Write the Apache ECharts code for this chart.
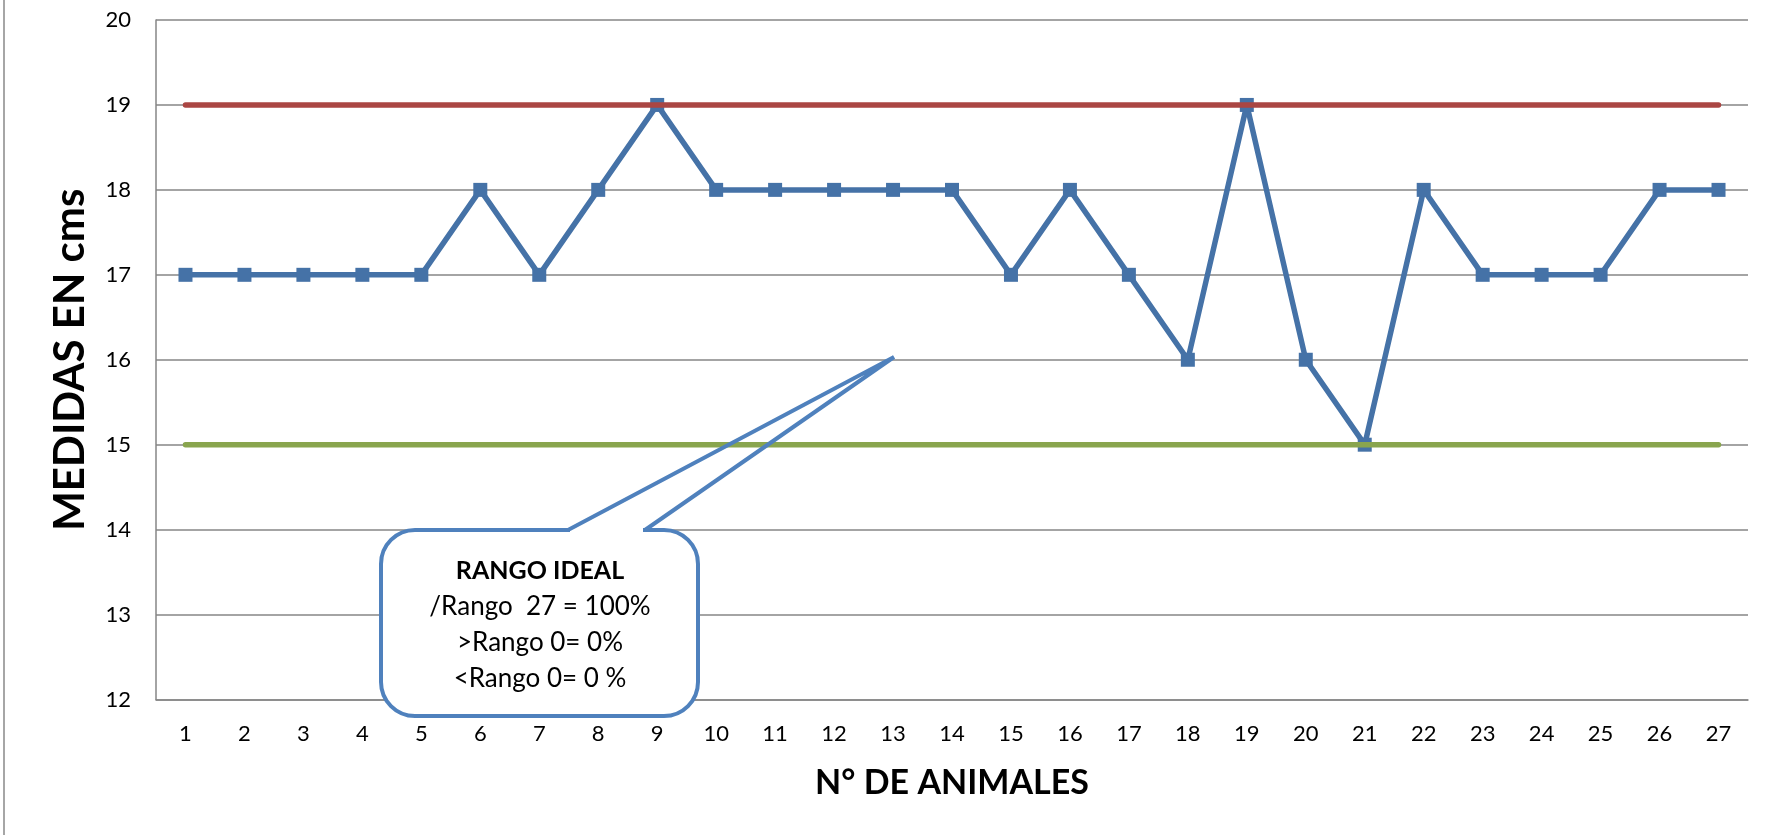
<!DOCTYPE html>
<html>
<head>
<meta charset="utf-8">
<script src="https://cdn.jsdelivr.net/npm/echarts@6/dist/echarts.min.js"></script>
<style>
html,body{margin:0;padding:0;background:#fff;}
#chart{width:1769px;height:835px;}
</style>
</head>
<body>
<div id="chart"></div>
<script>
const categories = ['1','2','3','4','5','6','7','8','9','10','11','12','13','14','15','16','17','18','19','20','21','22','23','24','25','26','27'];
const medidas = [17,17,17,17,17,18,17,18,19,18,18,18,18,18,17,18,17,16,19,16,15,18,17,17,17,18,18];
const limiteSuperior = [19,19,19,19,19,19,19,19,19,19,19,19,19,19,19,19,19,19,19,19,19,19,19,19,19,19,19];
const limiteInferior = [15,15,15,15,15,15,15,15,15,15,15,15,15,15,15,15,15,15,15,15,15,15,15,15,15,15,15];
const yTicks = {min: 12, max: 20, interval: 1};
const calloutLines = ['RANGO IDEAL', '/Rango  27 = 100%', '>Rango 0= 0%', '<Rango 0= 0 %'];

const FONT = 'Lato';
const chart = echarts.init(document.getElementById('chart'), null, {renderer: 'canvas'});

const bx = 381, by = 530, bw = 317, bh = 186, r = 34;
const baseL = 568, baseR = 645, tip = [894, 357];
const cx = 540;
const lineYs = [571, 607, 643, 679];

chart.setOption({
  animation: false,
  backgroundColor: '#ffffff',
  grid: {left: 156, right: 21, top: 20, bottom: 135.5, containLabel: false},
  xAxis: {
    type: 'category',
    data: categories,
    boundaryGap: true,
    name: 'N° DE ANIMALES',
    nameLocation: 'middle',
    nameGap: 67,
    nameTextStyle: {fontFamily: FONT, fontSize: 34, fontWeight: 'bold', color: '#000'},
    axisLine: {show: true, lineStyle: {color: '#868686', width: 1.5}},
    axisTick: {show: false},
    axisLabel: {fontFamily: FONT, fontSize: 22, color: '#000', margin: 23, interval: 0},
    splitLine: {show: false}
  },
  yAxis: {
    type: 'value',
    min: yTicks.min,
    max: yTicks.max,
    interval: yTicks.interval,
    name: 'MEDIDAS EN cms',
    nameLocation: 'middle',
    nameGap: 65,
    nameRotate: 90,
    nameTextStyle: {fontFamily: FONT, fontSize: 42, fontWeight: 'bold', color: '#000'},
    axisLine: {show: true, lineStyle: {color: '#868686', width: 1.5}},
    axisTick: {show: false},
    axisLabel: {fontFamily: FONT, fontSize: 22, color: '#000', margin: 25},
    splitLine: {show: true, lineStyle: {color: '#868686', width: 1.5}}
  },
  series: [
    {
      type: 'line', data: medidas, symbol: 'rect', symbolSize: 14, z: 2,
      lineStyle: {color: '#4572A7', width: 5.5},
      itemStyle: {color: '#4572A7', borderWidth: 0}
    },
    {
      type: 'line', data: limiteSuperior, symbol: 'none', z: 3,
      lineStyle: {color: '#AA4643', width: 5.5, cap: 'round'}
    },
    {
      type: 'line', data: limiteInferior, symbol: 'none', z: 3,
      lineStyle: {color: '#89A54E', width: 5.5, cap: 'round'}
    }
  ],
  graphic: [
    {type: 'line', shape: {x1: 4, y1: 0, x2: 4, y2: 835}, style: {stroke: '#a6a6a6', lineWidth: 2}, z: 10},
    {type: 'rect', shape: {x: bx, y: by, width: bw, height: bh, r: r}, style: {fill: '#ffffff', stroke: '#4F81BD', lineWidth: 4}, z: 10},
    {type: 'line', shape: {x1: baseL + 2, y1: by, x2: baseR - 2, y2: by}, style: {stroke: '#ffffff', lineWidth: 6}, z: 11},
    {type: 'polyline', shape: {points: [[baseL, by], tip, [baseR, by]]}, style: {fill: null, stroke: '#4F81BD', lineWidth: 4, lineJoin: 'miter'}, z: 12},
    {type: 'text', x: cx, y: lineYs[0], z: 12, style: {text: calloutLines[0], fontFamily: FONT, fontSize: 25, fontWeight: 'bold', fill: '#000', textAlign: 'center', textVerticalAlign: 'middle'}},
    {type: 'text', x: cx, y: lineYs[1], z: 12, style: {text: calloutLines[1], fontFamily: FONT, fontSize: 26, fill: '#000', textAlign: 'center', textVerticalAlign: 'middle'}},
    {type: 'text', x: cx, y: lineYs[2], z: 12, style: {text: calloutLines[2], fontFamily: FONT, fontSize: 26, fill: '#000', textAlign: 'center', textVerticalAlign: 'middle'}},
    {type: 'text', x: cx, y: lineYs[3], z: 12, style: {text: calloutLines[3], fontFamily: FONT, fontSize: 26, fill: '#000', textAlign: 'center', textVerticalAlign: 'middle'}}
  ]
});
</script>
</body>
</html>
